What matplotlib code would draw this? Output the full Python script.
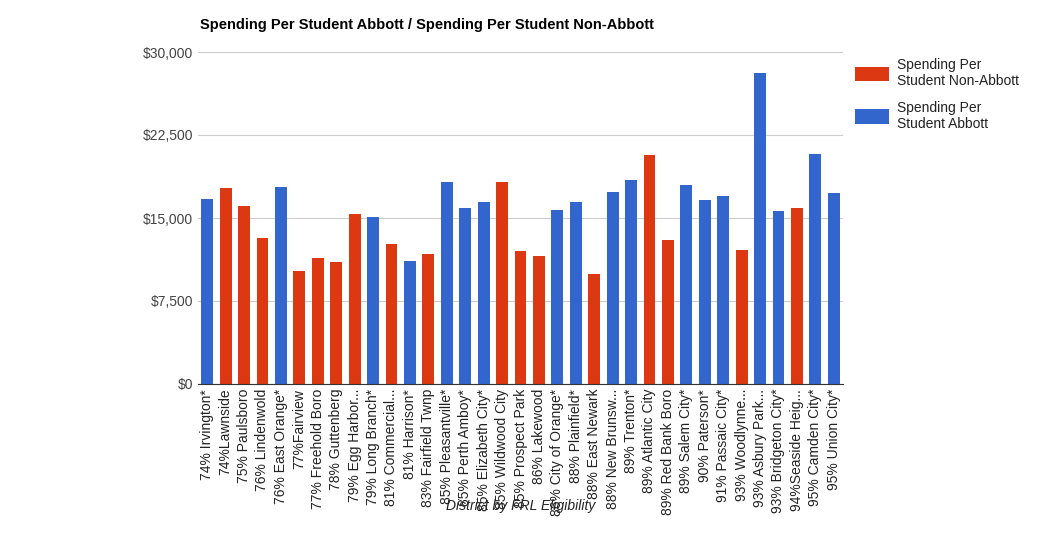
import numpy as np
import matplotlib.pyplot as plt

plt.rcParams['font.family'] = ['Liberation Sans', 'DejaVu Sans']

districts = ["74% Irvington*", "74%Lawnside", "75% Paulsboro", "76% Lindenwold", "76% East Orange*",
             "77%Fairview", "77% Freehold Boro", "78% Guttenberg", "79% Egg Harbor...", "79% Long Branch*",
             "81% Commercial...", "81% Harrison*", "83% Fairfield Twnp", "85% Pleasantville*", "85% Perth Amboy*",
             "85% Elizabeth City*", "85% Wildwood City", "85% Prospect Park", "86% Lakewood", "86% City of Orange*",
             "88% Plainfield*", "88% East Newark", "88% New Brunsw...", "89% Trenton*", "89% Atlantic City",
             "89% Red Bank Boro", "89% Salem City*", "90% Paterson*", "91% Passaic City*", "93% Woodlynne...",
             "93% Asbury Park...", "93% Bridgeton City*", "94%Seaside Heig...", "95% Camden City*", "95% Union City*"]
spending = [16700, 17700, 16100, 13200, 17800, 10200, 11400, 11000, 15400, 15100,
            12650, 11100, 11750, 18250, 15900, 16450, 18250, 12000, 11550, 15700,
            16450, 9900, 17350, 18450, 20700, 13000, 18000, 16600, 17000, 12100,
            28100, 15650, 15900, 20800, 17250]
abbott = [1, 0, 0, 0, 1, 0, 0, 0, 0, 1,
          0, 1, 0, 1, 1, 1, 0, 0, 0, 1,
          1, 0, 1, 1, 0, 0, 1, 1, 1, 0,
          1, 1, 0, 1, 1]

spending = np.array(spending)
abbott = np.array(abbott, dtype=bool)
x = np.arange(len(districts))
red, blue = "#dc3912", "#3366cc"

fig = plt.figure(figsize=(10.39, 5.39), dpi=100)
ax = fig.add_axes([198/1039, 1-384/539, 645/1039, 332/539])
ax.bar(x[~abbott], spending[~abbott], width=0.65, color=red, label="Spending Per\nStudent Non-Abbott", zorder=2)
ax.bar(x[abbott], spending[abbott], width=0.65, color=blue, label="Spending Per\nStudent Abbott", zorder=2)
ax.set_xlim(-0.5, len(districts) - 0.5)
ax.set_ylim(0, 30000)
ax.set_yticks([0, 7500, 15000, 22500, 30000])
ax.set_yticklabels(["$0", "$7,500", "$15,000", "$22,500", "$30,000"], color="#444444", fontsize=10)
ax.yaxis.grid(True, color="#cccccc", lw=0.8, zorder=0)
ax.set_xticks(x)
ax.set_xticklabels(districts, rotation=90, fontsize=10, color="#222222")
ax.tick_params(length=0)
for s in ["top", "right", "left"]:
    ax.spines[s].set_visible(False)
ax.spines["bottom"].set_color("#333333")
ax.set_xlabel("District by FRL Eligibility", style="italic", fontsize=10, color="#222222", labelpad=-12)
fig.text(200/1039, 1-25/539, "Spending Per Student Abbott / Spending Per Student Non-Abbott",
         fontsize=10.5, fontweight="bold", va="center")
ax.legend(loc="upper left", bbox_to_anchor=(1.0, 1.02), frameon=False, fontsize=10,
          handlelength=2.4, handleheight=1.2, handletextpad=0.6, labelspacing=0.9, labelcolor="#222222")
fig.savefig("out.png")
